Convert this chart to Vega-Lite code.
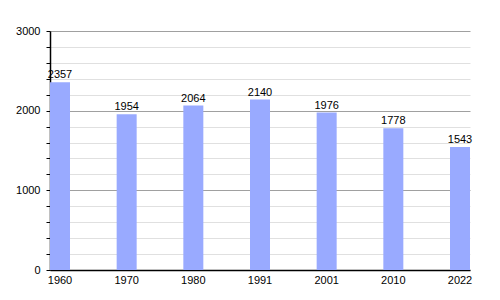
{
  "$schema": "https://vega.github.io/schema/vega-lite/v6.json",
  "autosize": "none",
  "width": 420,
  "height": 239,
  "padding": {"left": 50, "top": 31, "right": 30, "bottom": 30},
  "background": "white",
  "config": {"view": {"stroke": null}, "font": "Liberation Sans"},
  "data": {"values": [
    {"year": "1960", "pop": 2357},
    {"year": "1970", "pop": 1954},
    {"year": "1980", "pop": 2064},
    {"year": "1991", "pop": 2140},
    {"year": "2001", "pop": 1976},
    {"year": "2010", "pop": 1778},
    {"year": "2022", "pop": 1543}
  ]},
  "encoding": {
    "x": {"field": "year", "type": "ordinal", "sort": null,
      "scale": {"paddingInner": 0.7, "paddingOuter": 0},
      "axis": {"title": null, "labelAngle": 0, "ticks": false, "domainColor": "#000", "domainWidth": 1.5, "labelColor": "#000", "labelFontSize": 11, "labelPadding": 4, "grid": false}},
    "y": {"field": "pop", "type": "quantitative",
      "scale": {"domain": [0, 3000], "nice": false},
      "axis": {"title": null,
        "values": [0,200,400,600,800,1000,1200,1400,1600,1800,2000,2200,2400,2600,2800,3000],
        "labelExpr": "datum.value % 1000 === 0 ? format(datum.value, 'd') : ''",
        "gridColor": {"condition": {"test": "datum.value % 1000 === 0", "value": "#a0a0a0"}, "value": "#e0e0e0"},
        "tickColor": "#000", "tickSize": 4, "domainColor": "#000", "domainWidth": 1.5,
        "labelColor": "#000", "labelFontSize": 11, "labelPadding": 6}}
  },
  "layer": [
    {"mark": {"type": "bar", "color": "#99aaff"}},
    {"mark": {"type": "text", "dy": -7, "fontSize": 11, "color": "#000"},
     "encoding": {"text": {"field": "pop", "type": "quantitative", "format": "d"}}}
  ]
}
